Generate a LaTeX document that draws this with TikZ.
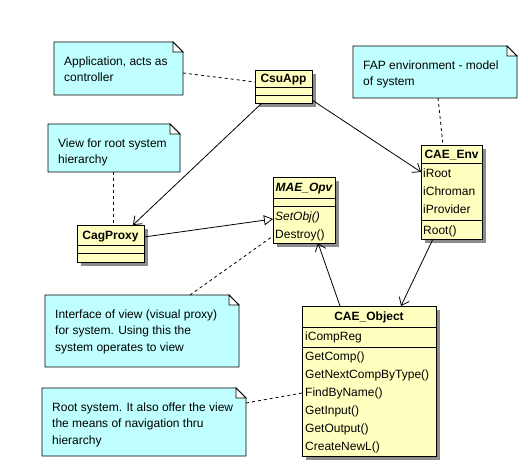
\documentclass[tikz,border=0pt]{standalone}
\usepackage{fontspec}
\setmainfont{Liberation Sans}
\usetikzlibrary{calc,positioning,arrows.meta,shadows}
\definecolor{ClassFill}{HTML}{FFFFC0}
\definecolor{NoteFill}{HTML}{C0FFFF}
\definecolor{ShadowGray}{HTML}{8C8C8C}
\newcommand{\umlfont}{\fontsize{12bp}{18bp}\selectfont}
\newcommand{\notefont}{\fontsize{12bp}{16.6bp}\selectfont}
\newcommand{\drawnote}[1]{%
  \filldraw[notebody] (#1.north west) -- ($(#1.north east)+(-10,0)$)
    -- ($(#1.north east)+(0,10)$) -- (#1.south east) -- (#1.south west) -- cycle;
  \filldraw[notebody, fill=white] ($(#1.north east)+(-10,0)$)
    -- ($(#1.north east)+(-10,10)$) -- ($(#1.north east)+(0,10)$) -- cycle;
}

\begin{document}
\begin{tikzpicture}[x=1bp, y=-1bp,
  classbox/.style={draw, fill=ClassFill, line width=0.8bp, inner sep=0pt,
    outer sep=0pt, anchor=north west,
    drop shadow={shadow xshift=4bp, shadow yshift=-4bp, fill=ShadowGray, opacity=1}},
  sepline/.style={line width=0.8bp},
  classtitle/.style={font=\umlfont\bfseries, inner sep=0pt, text height=8.6bp,
    text depth=0pt},
  member/.style={anchor=base west, inner sep=0pt, font=\umlfont},
  notearea/.style={inner sep=0pt, outer sep=0pt, anchor=north west},
  notebody/.style={draw, fill=NoteFill, line width=0.8bp},
  notetext/.style={anchor=north west, inner sep=0pt, align=left, font=\notefont,
    execute at begin node={\rule{0pt}{11.6bp}}},
  assoc/.style={-{Straight Barb[length=7bp,width=11bp]}, line width=0.8bp},
  realize/.style={-{Triangle[open,length=9bp,width=10bp]}, line width=0.8bp},
  notelink/.style={dash pattern=on 3bp off 3bp, line width=0.8bp}
  ]
  \useasboundingbox (0,0) rectangle (528,472);

  % classes
  \node[classbox, minimum width=57bp, minimum height=33bp] (csuapp) at (255,70) {};
  \draw[sepline] ($(csuapp.north west)+(0,17)$) -- ++(57,0);
  \draw[sepline] ($(csuapp.north west)+(0,25)$) -- ++(57,0);
  \node[classtitle] (csuapp-title) at ($(csuapp.north)+(0,8.5)$) {CsuApp};

  \node[classbox, minimum width=67bp, minimum height=37bp] (cagproxy) at (77,225) {};
  \draw[sepline] ($(cagproxy.north west)+(0,20)$) -- ++(67,0);
  \draw[sepline] ($(cagproxy.north west)+(0,28)$) -- ++(67,0);
  \node[classtitle] (cagproxy-title) at ($(cagproxy.north)+(0,10)$) {CagProxy};

  \node[classbox, minimum width=62bp, minimum height=66bp] (maeopv) at (273,177) {};
  \draw[sepline] ($(maeopv.north west)+(0,21)$) -- ++(62,0);
  \draw[sepline] ($(maeopv.north west)+(0,29)$) -- ++(62,0);
  \node[classtitle, font=\umlfont\bfseries\itshape] (maeopv-title)
    at ($(maeopv.north)+(0,10.5)$) {MAE\_Opv};
  \node[member] (maeopv-op0) at ($(maeopv.north west)+(2,44)$) {\textit{SetObj()}};
  \node[member] (maeopv-op1) at ($(maeopv.north west)+(2,62)$) {Destroy()};

  \node[classbox, minimum width=61bp, minimum height=94bp] (caeenv) at (421,145) {};
  \draw[sepline] ($(caeenv.north west)+(0,18)$) -- ++(61,0);
  \draw[sepline] ($(caeenv.north west)+(0,75)$) -- ++(61,0);
  \node[classtitle] (caeenv-title) at ($(caeenv.north)+(0,9)$) {CAE\_Env};
  \foreach \attr [count=\i from 0] in {iRoot,iChroman,iProvider}
    \node[member] (caeenv-attr\i) at ($(caeenv.north west)+(2,32.5+18*\i)$) {\attr};
  \node[member] (caeenv-op0) at ($(caeenv.north west)+(2,89.5)$) {Root()};

  \node[classbox, minimum width=134bp, minimum height=150bp] (caeobject) at (302,306) {};
  \draw[sepline] ($(caeobject.north west)+(0,21)$) -- ++(134,0);
  \draw[sepline] ($(caeobject.north west)+(0,41)$) -- ++(134,0);
  \node[classtitle] (caeobject-title) at ($(caeobject.north)+(0,10.5)$) {CAE\_Object};
  \node[member] (caeobject-attr0) at ($(caeobject.north west)+(3,34.5)$) {iCompReg};
  \foreach \op [count=\i from 0] in {GetComp(),GetNextCompByType(),FindByName(),
      GetInput(),GetOutput(),CreateNewL()}
    \node[member] (caeobject-op\i) at ($(caeobject.north west)+(3,54.5+18*\i)$) {\op};

  % notes
  \node[notearea, minimum width=129bp, minimum height=53bp] (appnote) at (54,42) {};
  \drawnote{appnote}
  \node[notetext] (appnote-text) at ($(appnote.north west)+(10,14.4)$)
    {Application, acts as\\controller};

  \node[notearea, minimum width=164bp, minimum height=52bp] (fapnote) at (353,46) {};
  \drawnote{fapnote}
  \node[notetext] (fapnote-text) at ($(fapnote.north west)+(10,14.4)$)
    {FAP environment - model\\of system};

  \node[notearea, minimum width=132bp, minimum height=48bp] (viewnote) at (48,124) {};
  \drawnote{viewnote}
  \node[notetext] (viewnote-text) at ($(viewnote.north west)+(10,14.4)$)
    {View for root system\\hierarchy};

  \node[notearea, minimum width=194bp, minimum height=72bp] (ifacenote) at (45,295) {};
  \drawnote{ifacenote}
  \node[notetext] (ifacenote-text) at ($(ifacenote.north west)+(10,14.4)$)
    {Interface of view (visual proxy)\\for system. Using this the\\system operates to view};

  \node[notearea, minimum width=204bp, minimum height=68bp] (rootnote) at (42,388) {};
  \drawnote{rootnote}
  \node[notetext] (rootnote-text) at ($(rootnote.north west)+(10,14.4)$)
    {Root system. It also offer the view\\the means of navigation thru\\hierarchy};

  % connectors
  \draw[assoc] ($(csuapp.south west)+(7,0)$) -- ($(cagproxy.north west)+(56,0)$);
  \draw[assoc] ($(csuapp.south east)+(0,-3)$) -- ($(caeenv.north west)+(0,27)$);
  \draw[realize] ($(cagproxy.north east)+(0,12)$) -- ($(maeopv.north west)+(0,42)$);
  \draw[assoc] ($(caeobject.north west)+(38,0)$) -- ($(maeopv.south west)+(45,0)$);
  \draw[assoc] ($(caeenv.south west)+(12,0)$) -- ($(caeobject.north west)+(99,0)$);

  % note links
  \draw[notelink] ($(appnote.north east)+(0,31)$) -- ($(csuapp.north west)+(0,12)$);
  \draw[notelink] ($(fapnote.south west)+(85,0)$) -- ($(caeenv.north west)+(22,0)$);
  \draw[notelink] ($(viewnote.south west)+(65,0)$) -- ($(cagproxy.north west)+(36,0)$);
  \draw[notelink] ($(ifacenote.north west)+(145,0)$) -- ($(maeopv.north west)+(0,59)$);
  \draw[notelink] ($(rootnote.north east)+(0,15)$) -- ($(caeobject.north west)+(0,87)$);
\end{tikzpicture}
\end{document}
